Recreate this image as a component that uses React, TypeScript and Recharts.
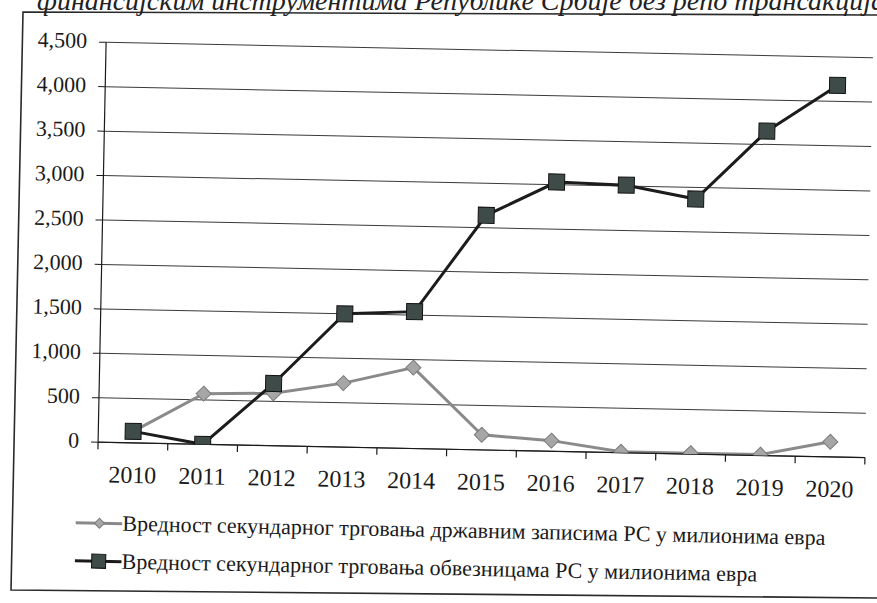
import React from "react";
import { LineChart, Line, XAxis, YAxis, CartesianGrid } from "recharts";

const years = ["2010", "2011", "2012", "2013", "2014", "2015", "2016", "2017", "2018", "2019", "2020"];
const billsValues = [130, 570, 590, 720, 910, 170, 120, 10, 10, 10, 170];
const bondsValues = [130, 0, 700, 1500, 1540, 2640, 3030, 3010, 2870, 3650, 4180];
const yTicks = [0, 500, 1000, 1500, 2000, 2500, 3000, 3500, 4000, 4500];
const billsName = "Вредност секундарног трговања државним записима РС у милионима евра";
const bondsName = "Вредност секундарног трговања обвезницама РС у милионима евра";
const titleText = "финансијским инструментима Републике Србије без репо трансакција";

const data = years.map((y, i) => ({ year: y, bills: billsValues[i], bonds: bondsValues[i] }));

const FONT = "'Liberation Serif', 'Times New Roman', Tinos, Times, 'Noto Serif', 'DejaVu Serif', serif";
const CHART_W = 877;
const MARGIN_L = 31;
const YAXIS_W = 70;
const MARGIN_R = 9;
const PLOT_W = CHART_W - MARGIN_L - YAXIS_W - MARGIN_R;
const STEP = PLOT_W / years.length;

const XTick = (props: any) => {
  const { x, y, payload, index } = props;
  const top = y - 8;
  return (
    <g>
      <line x1={x - STEP / 2} y1={top} x2={x - STEP / 2} y2={top + 7} stroke="#1a1a1a" strokeWidth={1.2} />
      {index === years.length - 1 && (
        <line x1={x + STEP / 2} y1={top} x2={x + STEP / 2} y2={top + 7} stroke="#1a1a1a" strokeWidth={1.2} />
      )}
      <text x={x} y={top + 40} textAnchor="middle" fontFamily={FONT} fontSize={24} fill="#1a1a1a">
        {payload.value}
      </text>
    </g>
  );
};

const YTick = (props: any) => {
  const { x, y, payload } = props;
  return (
    <text x={x - 10} y={y + 6} textAnchor="end" fontFamily={FONT} fontSize={22} fill="#1a1a1a">
      {Number(payload.value).toLocaleString("en-US")}
    </text>
  );
};

const Diamond = (props: any) => {
  const { cx, cy, index } = props;
  if (cx == null || cy == null) return <g key={index} />;
  const r = 7.5;
  return (
    <path
      key={index}
      d={`M${cx},${cy - r} L${cx + r},${cy} L${cx},${cy + r} L${cx - r},${cy} Z`}
      fill="#a6a6a6"
      stroke="#7a7a7a"
      strokeWidth={1}
    />
  );
};

const Square = (props: any) => {
  const { cx, cy, index } = props;
  if (cx == null || cy == null) return <g key={index} />;
  const s = 8;
  return <rect key={index} x={cx - s} y={cy - s} width={2 * s} height={2 * s} fill="#3f4b48" stroke="#111" strokeWidth={1} />;
};

const LegendBlock = () => (
  <div style={{ fontFamily: FONT, fontSize: 22, color: "#1a1a1a", lineHeight: "38px" }}>
    <div style={{ display: "flex", alignItems: "center", whiteSpace: "nowrap" }}>
      <svg width={47} height={20}>
        <line x1={0} y1={10} x2={47} y2={10} stroke="#8a8a8a" strokeWidth={3} />
        <path d="M24,5 L29,10 L24,15 L19,10 Z" fill="#a6a6a6" stroke="#7a7a7a" />
      </svg>
      <span>{billsName}</span>
    </div>
    <div style={{ display: "flex", alignItems: "center", whiteSpace: "nowrap" }}>
      <svg width={47} height={20}>
        <line x1={0} y1={10} x2={47} y2={10} stroke="#1a1a1a" strokeWidth={3} />
        <rect x={17} y={3} width={14} height={14} fill="#3f4b48" stroke="#111" />
      </svg>
      <span>{bondsName}</span>
    </div>
  </div>
);

export default function App() {
  return (
    <div style={{ position: "absolute", left: 0, top: 0, width: 877, height: 603, overflow: "hidden", background: "#fff" }}>
      <svg width={877} height={603} style={{ position: "absolute", left: 0, top: 0 }}>
        <path d="M880,15 L23,12 L11,590 L880,598" fill="none" stroke="#2a2a2a" strokeWidth={1.6} />
      </svg>
      <div
        style={{
          position: "absolute",
          left: 37,
          top: -15,
          fontFamily: FONT,
          fontStyle: "italic",
          fontSize: 28,
          color: "#222",
          whiteSpace: "nowrap",
        }}
      >
        {titleText}
      </div>
      <div
        style={{
          position: "absolute",
          left: 0,
          top: 0,
          width: 877,
          height: 603,
          transform: "rotate(1.15deg)",
          transformOrigin: "438px 300px",
        }}
      >
        <div style={{ position: "absolute", left: 0, top: 0 }}>
          <LineChart
            width={CHART_W}
            height={603}
            data={data}
            margin={{ top: 49, right: MARGIN_R, left: MARGIN_L, bottom: 114 }}
          >
            <CartesianGrid horizontal={true} vertical={false} stroke="#3a3a3a" strokeWidth={1} />
            <XAxis
              dataKey="year"
              tick={<XTick />}
              tickLine={false}
              axisLine={{ stroke: "#1a1a1a", strokeWidth: 1.2 }}
              interval={0}
              height={40}
              padding={{ left: STEP / 2, right: STEP / 2 }}
            />
            <YAxis
              domain={[0, 4500]}
              ticks={yTicks}
              tick={<YTick />}
              tickLine={{ stroke: "#1a1a1a" }}
              tickSize={7}
              axisLine={{ stroke: "#1a1a1a", strokeWidth: 1.2 }}
              width={YAXIS_W}
              allowDataOverflow
            />
            <Line
              type="linear"
              dataKey="bills"
              name={billsName}
              stroke="#8a8a8a"
              strokeWidth={3}
              dot={<Diamond />}
              isAnimationActive={false}
            />
            <Line
              type="linear"
              dataKey="bonds"
              name={bondsName}
              stroke="#1c1c1c"
              strokeWidth={3}
              dot={<Square />}
              isAnimationActive={false}
            />
          </LineChart>
        </div>
        <div style={{ position: "absolute", left: 80, top: 511 }}>
          <LegendBlock />
        </div>
      </div>
    </div>
  );
}
